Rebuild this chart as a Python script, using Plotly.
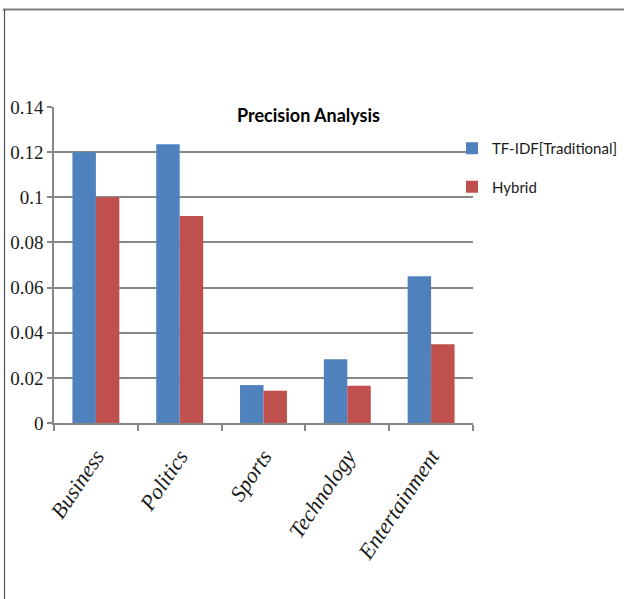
import plotly.graph_objects as go

categories = ["Business", "Politics", "Sports", "Technology", "Entertainment"]
tfidf_values = [0.12, 0.1235, 0.0168, 0.0282, 0.0650]
hybrid_values = [0.10, 0.0917, 0.0143, 0.0165, 0.0349]
y_ticks = [0, 0.02, 0.04, 0.06, 0.08, 0.1, 0.12, 0.14]
y_tick_labels = ["0", "0.02", "0.04", "0.06", "0.08", "0.1", "0.12", "0.14"]

W, H = 624, 599
ML, MR, MT, MB = 54, 151, 107, 176
PW, PH = W - ML - MR, H - MT - MB


def px_x(px):
    return (px - ML) / PW


def px_y(py):
    return (H - MB - py) / PH


GRID = "#878787"
SANS = "Lato, Open Sans, sans-serif"
SERIF = "Liberation Serif, Times New Roman, serif"

fig = go.Figure()
fig.add_trace(go.Bar(x=categories, y=tfidf_values, name="TF-IDF[Traditional]",
                     legendgroup="tfidf",
                     marker=dict(color="#4F81BD", line=dict(width=0))))
fig.add_trace(go.Bar(x=categories, y=hybrid_values, name="Hybrid",
                     legendgroup="hybrid",
                     marker=dict(color="#C0504D", line=dict(width=0))))

fig.update_layout(
    width=W, height=H,
    margin=dict(l=ML, r=MR, t=MT, b=MB, pad=0, autoexpand=False),
    paper_bgcolor="white", plot_bgcolor="white",
    barmode="group", bargap=0.44, bargroupgap=0,
    showlegend=True,
    legend=dict(x=px_x(452), y=px_y(132), xanchor="left", yanchor="top",
                font=dict(family=SANS, size=15, color="#1a1a1a"),
                bgcolor="rgba(0,0,0,0)", traceorder="grouped",
                tracegroupgap=16, itemwidth=30),
    xaxis=dict(showgrid=False, showline=True, linecolor=GRID, linewidth=1.5,
               ticks="outside", tickson="boundaries", ticklen=6, tickcolor=GRID,
               tickwidth=1.5, tickangle=-56, ticklabelstandoff=10,
               tickvals=categories,
               ticktext=[f"<i>{c}</i>" for c in categories],
               tickfont=dict(family=SERIF, size=22, color="#1a1a1a",
                             style="italic")),
    yaxis=dict(range=[0, 0.14], tickvals=y_ticks, ticktext=y_tick_labels,
               showgrid=True, gridcolor=GRID, gridwidth=1.5,
               showline=True, linecolor=GRID, linewidth=1.5,
               ticks="outside", ticklen=5, tickcolor=GRID, tickwidth=1.5,
               zeroline=False,
               tickfont=dict(family=SERIF, size=19, color="#1a1a1a")),
    annotations=[dict(text="<b>Precision Analysis</b>", x=px_x(308), y=px_y(115),
                      xref="paper", yref="paper", xanchor="center",
                      yanchor="middle", showarrow=False,
                      font=dict(family=SANS, size=18, color="black"))],
    shapes=[
        dict(type="line", xref="paper", yref="paper",
             x0=px_x(3), x1=px_x(630), y0=px_y(9.5), y1=px_y(9.5),
             line=dict(color="#7f7f7f", width=2)),
        dict(type="line", xref="paper", yref="paper",
             x0=px_x(4.5), x1=px_x(4.5), y0=px_y(9), y1=px_y(605),
             line=dict(color="#555555", width=1.2)),
    ],
)

fig.write_html("out.html")
